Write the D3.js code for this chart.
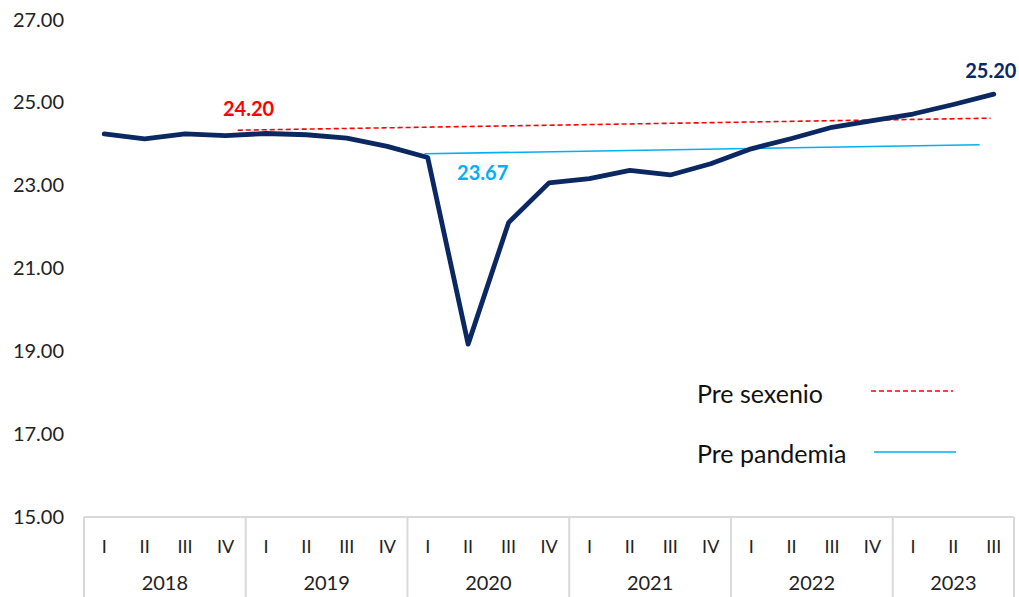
<!DOCTYPE html>
<html>
<head>
<meta charset="utf-8">
<script src="https://cdn.jsdelivr.net/npm/d3@7"></script>
<style>
  body { margin: 0; background: #fff; }
  text { font-family: Lato, "Open Sans", sans-serif; }
</style>
</head>
<body>
<div id="chart"></div>
<script>
var years = ["2018", "2019", "2020", "2021", "2022", "2023"];
var quarterNames = ["I", "II", "III", "IV"];
var yearQuarters = [4, 4, 4, 4, 4, 3];

var values = [24.24, 24.12, 24.24, 24.20, 24.25, 24.22, 24.14, 23.94,
              23.67, 19.17, 22.10, 23.06, 23.16, 23.36, 23.25, 23.52,
              23.88, 24.13, 24.40, 24.56, 24.72, 24.95, 25.20];

// trend lines: [quarter position, value]
var preSexenio = [[3.3, 24.33], [21.92, 24.62]];
var prePandemia = [[7.92, 23.76], [21.65, 23.98]];

var yTicks = [15, 17, 19, 21, 23, 25, 27];

var width = 1019, height = 597;

var svg = d3.select("#chart")
    .append("svg")
    .attr("width", width)
    .attr("height", height);

var x = d3.scaleLinear()
    .domain([-0.5, 22.5])
    .range([84, 1014]);

var y = d3.scaleLinear()
    .domain([15, 27])
    .range([517, 19.5]);

// y tick labels
svg.selectAll(".ytick")
    .data(yTicks)
    .enter()
    .append("text")
    .attr("class", "ytick")
    .attr("x", 64)
    .attr("y", function(d) { return y(d); })
    .attr("dy", "0.35em")
    .attr("text-anchor", "end")
    .attr("font-size", "20px")
    .attr("fill", "#222")
    .text(function(d) { return d.toFixed(2); });

// category axis (grouped)
var axisColor = "#d9d9d9";
svg.append("line")
    .attr("x1", x(-0.5)).attr("x2", x(22.5))
    .attr("y1", y(15)).attr("y2", y(15))
    .attr("stroke", axisColor)
    .attr("stroke-width", 2);

var start = 0;
var bounds = [];
years.forEach(function(yr, i) {
    bounds.push({year: yr, from: start, n: yearQuarters[i]});
    start += yearQuarters[i];
});

svg.selectAll(".sep")
    .data([-0.5].concat(bounds.map(function(b) { return b.from + b.n - 0.5; })))
    .enter()
    .append("line")
    .attr("class", "sep")
    .attr("x1", function(d) { return x(d); })
    .attr("x2", function(d) { return x(d); })
    .attr("y1", y(15))
    .attr("y2", height)
    .attr("stroke", axisColor)
    .attr("stroke-width", 2);

var qLabels = [];
bounds.forEach(function(b) {
    for (var k = 0; k < b.n; k++) qLabels.push({i: b.from + k, name: quarterNames[k]});
});

svg.selectAll(".qlab")
    .data(qLabels)
    .enter()
    .append("text")
    .attr("class", "qlab")
    .attr("x", function(d) { return x(d.i); })
    .attr("y", 553)
    .attr("text-anchor", "middle")
    .attr("font-size", "18px")
    .attr("fill", "#222")
    .text(function(d) { return d.name; });

svg.selectAll(".ylab")
    .data(bounds)
    .enter()
    .append("text")
    .attr("class", "ylab")
    .attr("x", function(d) { return (x(d.from - 0.5) + x(d.from + d.n - 0.5)) / 2; })
    .attr("y", 590)
    .attr("text-anchor", "middle")
    .attr("font-size", "20px")
    .attr("fill", "#222")
    .text(function(d) { return d.year; });

// trend lines
var trend = d3.line()
    .x(function(d) { return x(d[0]); })
    .y(function(d) { return y(d[1]); });

svg.append("path")
    .datum(preSexenio)
    .attr("d", trend)
    .attr("fill", "none")
    .attr("stroke", "#ff0000")
    .attr("stroke-width", 1.6)
    .attr("stroke-dasharray", "5,3");

svg.append("path")
    .datum(prePandemia)
    .attr("d", trend)
    .attr("fill", "none")
    .attr("stroke", "#00b0f0")
    .attr("stroke-width", 1.6);

// main series
var line = d3.line()
    .x(function(d, i) { return x(i); })
    .y(function(d) { return y(d); });

svg.append("path")
    .datum(values)
    .attr("d", line)
    .attr("fill", "none")
    .attr("stroke", "#0b2862")
    .attr("stroke-width", 4.8)
    .attr("stroke-linejoin", "round")
    .attr("stroke-linecap", "round");

// data labels
svg.append("text")
    .attr("x", x(3) + 23)
    .attr("y", y(values[3]) - 20)
    .attr("text-anchor", "middle")
    .attr("font-size", "20px")
    .attr("font-weight", "bold")
    .attr("fill", "#ff0000")
    .text(values[3].toFixed(2));

svg.append("text")
    .attr("x", x(8) + 55)
    .attr("y", y(values[8]) + 22)
    .attr("text-anchor", "middle")
    .attr("font-size", "20px")
    .attr("font-weight", "bold")
    .attr("fill", "#00b0f0")
    .text(values[8].toFixed(2));

svg.append("text")
    .attr("x", x(22) - 3)
    .attr("y", y(values[22]) - 16)
    .attr("text-anchor", "middle")
    .attr("font-size", "20px")
    .attr("font-weight", "bold")
    .attr("fill", "#0b2862")
    .text(values[22].toFixed(2));

// legend
var legend = [
    {name: "Pre sexenio", color: "#ff0000", dash: "5,3", ty: 403, ly: 391, x1: 871, x2: 953},
    {name: "Pre pandemia", color: "#00b0f0", dash: null, ty: 463, ly: 452, x1: 874, x2: 956}
];

var lg = svg.selectAll(".legend")
    .data(legend)
    .enter()
    .append("g")
    .attr("class", "legend");

lg.append("text")
    .attr("x", 697)
    .attr("y", function(d) { return d.ty; })
    .attr("font-size", "25px")
    .attr("fill", "#111")
    .text(function(d) { return d.name; });

lg.append("line")
    .attr("x1", function(d) { return d.x1; })
    .attr("x2", function(d) { return d.x2; })
    .attr("y1", function(d) { return d.ly; })
    .attr("y2", function(d) { return d.ly; })
    .attr("stroke", function(d) { return d.color; })
    .attr("stroke-width", 1.6)
    .attr("stroke-dasharray", function(d) { return d.dash; });
</script>
</body>
</html>
